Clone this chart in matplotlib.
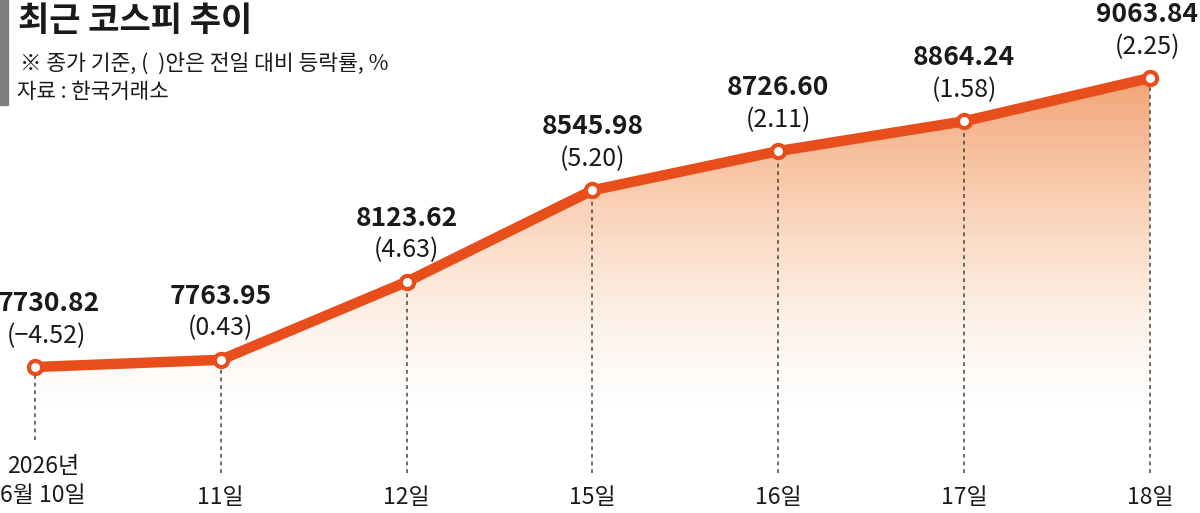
import matplotlib
matplotlib.use("Agg")
import matplotlib.pyplot as plt
import numpy as np
from matplotlib.colors import LinearSegmentedColormap
from matplotlib.patches import Rectangle

plt.rcParams['font.family'] = ['Noto Sans CJK KR', 'DejaVu Sans']

# data
days = ['2026년\n6월 10일', '11일', '12일', '15일', '16일', '17일', '18일']
closes = [7730.82, 7763.95, 8123.62, 8545.98, 8726.60, 8864.24, 9063.84]
changes = [-4.52, 0.43, 4.63, 5.20, 2.11, 1.58, 2.25]

title = '최근 코스피 추이'
note = '※ 종가 기준, (  )안은 전일 대비 등락률, %'
source = '자료 : 한국거래소'

line_col = '#e84e1b'
txt_col = '#1a1a1a'

fig = plt.figure(figsize=(12, 5.13), dpi=100)
ax = fig.add_axes([0, 0, 1, 1])
x = np.arange(len(closes))
ax.set_xlim(-0.188, 6.269)
y_bot, y_top = 7057.4, 9423.6
ax.set_ylim(y_bot, y_top)
ax.axis('off')

# gradient fill under the line
cmap = LinearSegmentedColormap.from_list(
    'fade', [(0.0, '#ffffff'), (0.25, '#ffffff'), (0.45, '#fdf0e6'),
             (0.62, '#fbdcc6'), (0.82, '#f7bf9c'), (1.0, '#f2a273')])
grad = np.linspace(0, 1, 256).reshape(-1, 1)
im = ax.imshow(grad, extent=[x[0], x[-1], y_bot, 9100], origin='lower',
               aspect='auto', cmap=cmap, zorder=1)
poly = ax.fill_between(x, closes, y_bot, facecolor='none', edgecolor='none')
im.set_clip_path(poly.get_paths()[0], transform=ax.transData)

# dashed drop lines
trans = ax.get_xaxis_transform()
for i, v in enumerate(closes):
    bottom = 0.142 if i == 0 else 0.078
    y_frac = ax.transLimits.transform((x[i], v))[1]
    ax.plot([x[i], x[i]], [bottom, y_frac], transform=trans, color='#444444',
            lw=1.1, ls=(0, (2.5, 2.5)), zorder=2)

ax.plot(x, closes, color=line_col, lw=7.5, solid_capstyle='round', zorder=3)
ax.plot(x, closes, 'o', ms=9.5, mfc='white', mec=line_col, mew=3, zorder=4)

for i, (v, c) in enumerate(zip(closes, changes)):
    dx = 10 if i == 0 else (-2 if i == len(closes) - 1 else 0)
    ax.annotate(f'{v:.2f}', (x[i], v), xytext=(dx, 40.5),
                textcoords='offset points', ha='center', va='baseline',
                fontsize=19, fontweight='bold', color=txt_col, zorder=5)
    ctxt = f'({c:.2f})'.replace('-', '−')
    ax.annotate(ctxt, (x[i], v), xytext=(dx - 2 if i == 0 else dx, 17.5),
                textcoords='offset points', ha='center', va='baseline',
                fontsize=18, color=txt_col, zorder=5)

for i, d in enumerate(days):
    dx = 6 if i == 0 else 0
    n = d.count('\n')
    ax.annotate(d, (x[i], 0.031), xycoords=('data', 'axes fraction'),
                xytext=(dx, n * 11.5), textcoords='offset points',
                ha='center', va='center', fontsize=16.5, color=txt_col,
                linespacing=1.35)

# header
fig.patches.append(Rectangle((0, 1 - 105 / 513), 8 / 1200, 105 / 513,
                             transform=fig.transFigure, color='#7d7d7d'))
fig.text(18 / 1200, 1 - 20 / 513, title, fontsize=24.5, fontweight='heavy',
         va='center', ha='left', color=txt_col)
fig.text(20 / 1200, 1 - 64 / 513, note, fontsize=15.5, va='center', ha='left',
         color=txt_col)
fig.text(17 / 1200, 1 - 92 / 513, source, fontsize=15.3, va='center', ha='left',
         color=txt_col)

fig.savefig('out.png', dpi=100)
